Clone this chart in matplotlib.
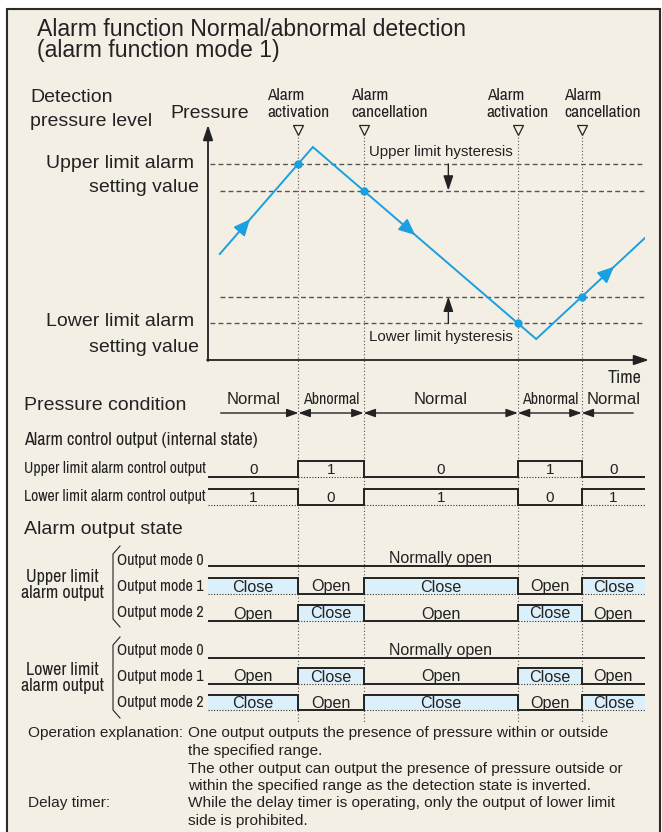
import numpy as np
import matplotlib
matplotlib.use("Agg")
import matplotlib.pyplot as plt
from matplotlib import font_manager
from matplotlib.patches import Rectangle

# ---------------- data ----------------
curve_t = [2.7, 24.0, 75.1, 100.0]          # time of pressure path vertices
curve_p = [45.5, 91.4, 9.0, 52.4]           # pressure at those vertices
upper_limit = 84.1
upper_hyst = 72.7
lower_hyst = 27.2
lower_limit = 15.8
transitions = [20.7, 35.6, 70.9, 85.5]
transition_levels = [upper_limit, upper_hyst, lower_limit, lower_hyst]
flow_arrow_t = [9.6, 47.4, 92.9]
event_labels = ["Alarm\nactivation", "Alarm\ncancellation",
                "Alarm\nactivation", "Alarm\ncancellation"]

conditions = ["Normal", "Abnormal", "Normal", "Abnormal", "Normal"]
upper_ctrl = [0, 1, 0, 1, 0]
lower_ctrl = [1, 0, 1, 0, 1]
upper_mode1 = ["Close", "Open", "Close", "Open", "Close"]
upper_mode2 = ["Open", "Close", "Open", "Close", "Open"]
lower_mode1 = ["Open", "Close", "Open", "Close", "Open"]
lower_mode2 = ["Close", "Open", "Close", "Open", "Close"]
mode0_label = "Normally open"
t_start, t_end = 0.0, 100.0

# ---------------- style ----------------
W, H = 662, 832
X0, X1 = 208, 645
PY0, PY1 = 127, 360
BG = "#f3efe4"
INK = "#222222"
BLUE = "#1a9fe0"
FILL = "#dcf0fb"
DASH = "#555555"

names = {f.name for f in font_manager.fontManager.ttflist}
REG = "Liberation Sans"
NAR, NS = "Liberation Sans", 0.82
for cand in ["Liberation Sans Narrow", "Arial Narrow", "Nimbus Sans Narrow",
             "Archivo Narrow", "PT Sans Narrow", "Roboto Condensed"]:
    if cand in names:
        NAR, NS = cand, 1.0
        break


def rect(x0, y0, x1, y1):
    return [x0 / W, 1 - y1 / H, (x1 - x0) / W, (y1 - y0) / H]


fig = plt.figure(figsize=(W / 100, H / 100), dpi=100)
fig.patch.set_facecolor("white")
bg = fig.add_axes([0, 0, 1, 1])
bg.set_xlim(0, W)
bg.set_ylim(H, 0)
bg.axis("off")
bg.add_patch(Rectangle((7, 9), 653, 840, facecolor=BG, edgecolor="#2a2a2a", lw=1.5))

tax = fig.add_axes(rect(X0, 0, X1, H))
tax.set_xlim(t_start, t_end)
tax.set_ylim(H, 0)
tax.axis("off")

pax = fig.add_axes(rect(X0, PY0, X1, PY1))
pax.set_xlim(t_start, t_end)
pax.set_ylim(0, 100)
pax.axis("off")


def T(s, x, y, size, fam=REG, **kw):
    kw.setdefault("va", "center")
    bg.text(x, y, s, fontsize=size, family=fam, color=INK, **kw)


# ---------------- titles / left labels ----------------
T("Alarm function Normal/abnormal detection", 37, 30, 16.6)
T("(alarm function mode 1)", 37, 51, 16.6)
T("Detection", 30, 97, 14)
T("pressure level", 30, 121, 14)
T("Pressure", 170, 113, 14)
T("Upper limit alarm", 194, 163, 14, ha="right")
T("setting value", 199, 187, 14, ha="right")
T("Lower limit alarm", 194, 322, 14, ha="right")
T("setting value", 199, 347, 14, ha="right")

# ---------------- pressure chart ----------------
bg.annotate("", xy=(208, 125), xytext=(208, 361),
            arrowprops=dict(arrowstyle="-|>,head_length=0.9,head_width=0.3",
                            color=INK, lw=1.3, shrinkA=0, shrinkB=0, mutation_scale=10))
bg.annotate("", xy=(649, 360), xytext=(207, 360),
            arrowprops=dict(arrowstyle="-|>,head_length=0.9,head_width=0.3",
                            color=INK, lw=1.3, shrinkA=0, shrinkB=0, mutation_scale=10))
T("Time", 641, 378, 13 * NS, ha="right", fam=NAR)

pax.hlines([upper_limit, lower_limit], 0.4, t_end, colors=DASH, lw=1.0,
           linestyles=[(0, (3.5, 2.3))])
pax.hlines([upper_hyst, lower_hyst], curve_t[0], t_end, colors=DASH, lw=1.0,
           linestyles=[(0, (3.5, 2.3))])

tax.vlines(transitions, 137, 722, colors="#555555", lw=0.8, linestyles=[(0, (1, 2))])
tax.plot(transitions, [130] * len(transitions), ls="none", marker="v", ms=7.5,
         mfc="none", mec=INK, mew=0.9)
label_shift_px = [0, 26, 0, 21]
for t, lab, dx in zip(transitions, event_labels, label_shift_px):
    tax.annotate(lab, xy=(t, 104), xytext=(dx * 0.72, 0), textcoords="offset points",
                 ha="center", va="center", multialignment="left",
                 fontsize=12.5 * NS, family=NAR, color=INK, linespacing=1.15)

pax.plot(curve_t, curve_p, color=BLUE, lw=1.4, solid_joinstyle="miter")
pax.plot(transitions, transition_levels, "o", ms=5, color=BLUE)
for t in flow_arrow_t:
    p1 = np.interp(t, curve_t, curve_p)
    p0 = np.interp(t - 2, curve_t, curve_p)
    pax.annotate("", xy=(t, p1), xytext=(t - 2, p0),
                 arrowprops=dict(arrowstyle="-|>,head_length=1.0,head_width=0.45",
                                 color=BLUE, lw=1.2, shrinkA=0, shrinkB=0,
                                 mutation_scale=10))

hyst_t = 55.0
for a, b in [(upper_limit, upper_hyst), (lower_limit, lower_hyst)]:
    pax.annotate("", xy=(hyst_t, b), xytext=(hyst_t, a),
                 arrowprops=dict(arrowstyle="-|>,head_length=0.9,head_width=0.3",
                                 color=INK, lw=1.0, shrinkA=0, shrinkB=0,
                                 mutation_scale=10))
T("Upper limit hysteresis", 369, 152, 10.8)
T("Lower limit hysteresis", 369, 337, 10.8)

# ---------------- pressure condition ----------------
edges = [t_start] + transitions + [t_end]
T("Pressure condition", 24, 405, 14)
n = len(conditions)
for i, c in enumerate(conditions):
    a, b = edges[i], edges[i + 1]
    style = "<|-|>"
    if i == 0:
        a, style = 2.9, "-|>"
    if i == n - 1:
        b, style = 97.3, "<|-"
    tax.annotate("", xy=(b, 413), xytext=(a, 413),
                 arrowprops=dict(arrowstyle=style + ",head_length=0.7,head_width=0.25",
                                 color=INK, lw=1.0, shrinkA=0, shrinkB=0,
                                 mutation_scale=10))
    cx = (edges[i] + edges[i + 1]) / 2
    if c == "Normal":
        tax.text(cx, 400, c, ha="center", va="center", fontsize=12, family=REG, color=INK)
    else:
        tax.text(cx, 400, c, ha="center", va="center", fontsize=11.5 * NS, family=NAR,
                 color=INK)


# ---------------- signal rows ----------------
def draw_row(states, high_y, low_y, labels, fill=False, size=11.6):
    xs, ys = [], []
    for i, s in enumerate(states):
        lvl = high_y if s else low_y
        xs += [edges[i], edges[i + 1]]
        ys += [lvl, lvl]
        if s:
            if fill:
                tax.fill_between([edges[i], edges[i + 1]], high_y, low_y,
                                 color=FILL, lw=0, zorder=1)
            tax.hlines(low_y, edges[i], edges[i + 1], colors="#333333", lw=0.8,
                       linestyles=[(0, (1, 1.5))], zorder=2)
        tax.text((edges[i] + edges[i + 1]) / 2, (high_y + low_y) / 2 + 1, labels[i],
                 ha="center", va="center", fontsize=size, family=REG, color=INK,
                 zorder=4)
    tax.plot(xs, ys, color=INK, lw=1.4, zorder=3, solid_joinstyle="miter")


T("Alarm control output (internal state)", 24, 440, 13 * NS, fam=NAR)
T("Upper limit alarm control output", 24, 469, 11.3 * NS, fam=NAR)
T("Lower limit alarm control output", 24, 496, 11.3 * NS, fam=NAR)
draw_row(upper_ctrl, 461, 477, [str(v) for v in upper_ctrl], size=11)
draw_row(lower_ctrl, 489, 505, [str(v) for v in lower_ctrl], size=11)

T("Alarm output state", 24, 530, 14)
T("Upper limit\nalarm output", 62, 585, 13 * NS, fam=NAR, ha="center",
  multialignment="center", linespacing=1.05)
T("Lower limit\nalarm output", 62, 678, 13 * NS, fam=NAR, ha="center",
  multialignment="center", linespacing=1.05)
for y0 in (546, 637):
    bg.plot([120, 113, 113, 120], [y0, y0 + 8, y0 + 73, y0 + 81], color=INK, lw=0.8)

rows = [
    ("Output mode 0", 560, None, 550, 566),
    ("Output mode 1", 587, upper_mode1, 578, 594),
    ("Output mode 2", 612, upper_mode2, 605, 621),
    ("Output mode 0", 651, None, 642, 658),
    ("Output mode 1", 677, lower_mode1, 668, 684),
    ("Output mode 2", 703, lower_mode2, 695, 710),
]
for name, ly, lab, hy, lo in rows:
    T(name, 117, ly, 11.5 * NS, fam=NAR)
    if lab is None:
        tax.plot([t_start, t_end], [lo, lo], color=INK, lw=1.4)
        tax.text((edges[2] + edges[3]) / 2, lo - 7, mode0_label, ha="center",
                 va="center", fontsize=11.5, family=REG, color=INK)
    else:
        draw_row([1 if v == "Close" else 0 for v in lab], hy, lo, lab, fill=True)

# ---------------- explanation ----------------
FS = 11.1
T("Operation explanation:", 28, 733.5, FS)
T("One output outputs the presence of pressure within or outside", 188, 733.5, FS)
T("the specified range.", 188, 751, FS)
T("The other output can output the presence of pressure outside or", 188, 768.5, FS)
T("within the specified range as the detection state is inverted.", 188, 786, FS)
T("Delay timer:", 28, 803.5, FS)
T("While the delay timer is operating, only the output of lower limit", 188, 803.5, FS)
T("side is prohibited.", 188, 821, FS)

fig.savefig("out.png", dpi=100, facecolor="white")
